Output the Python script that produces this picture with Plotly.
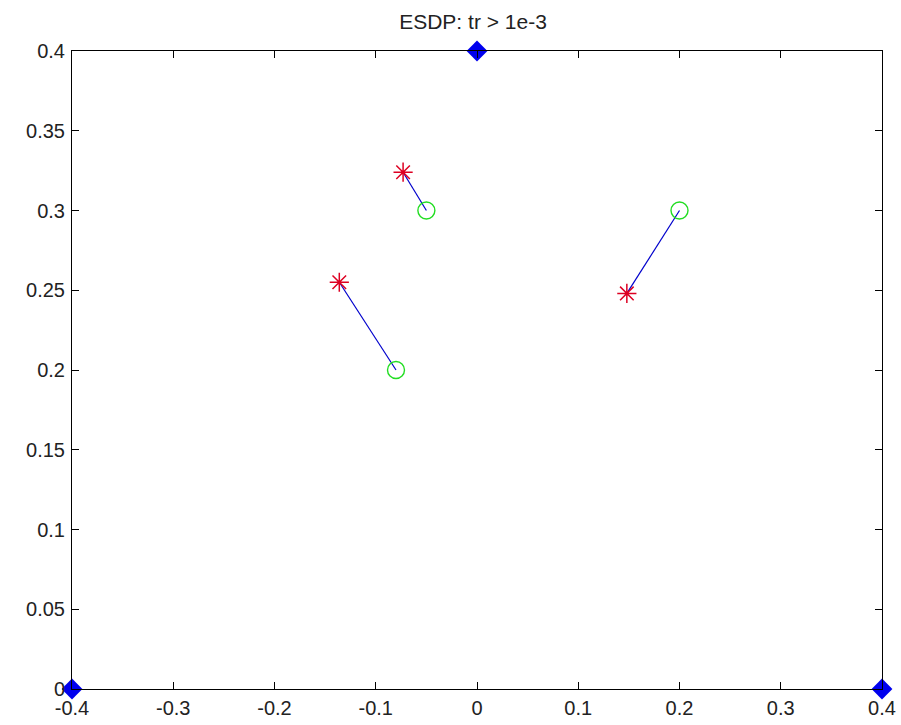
import plotly.graph_objects as go

# anchors
anchor_x = [-0.4, 0.0, 0.4]
anchor_y = [0.0, 0.4, 0.0]
# true positions (circles)
true_x = [-0.08, -0.05, 0.2]
true_y = [0.2, 0.3, 0.3]
# estimated positions (stars)
est_x = [-0.136, -0.073, 0.148]
est_y = [0.255, 0.324, 0.248]

x_ticks = [-0.4, -0.3, -0.2, -0.1, 0, 0.1, 0.2, 0.3, 0.4]
x_labels = ["-0.4", "-0.3", "-0.2", "-0.1", "0", "0.1", "0.2", "0.3", "0.4"]
y_ticks = [0, 0.05, 0.1, 0.15, 0.2, 0.25, 0.3, 0.35, 0.4]
y_labels = ["0", "0.05", "0.1", "0.15", "0.2", "0.25", "0.3", "0.35", "0.4"]

lx, ly = [], []
for a, b, c, d in zip(est_x, est_y, true_x, true_y):
    lx += [a, c, None]
    ly += [b, d, None]

fig = go.Figure()
fig.add_trace(go.Scatter(x=lx, y=ly, mode="lines", line=dict(color="#0000cc", width=1.2), hoverinfo="skip"))
fig.add_trace(go.Scatter(x=true_x, y=true_y, mode="markers",
                         marker=dict(symbol="circle-open", size=17, color="#22dd22", line=dict(width=1.4))))
fig.add_trace(go.Scatter(x=est_x, y=est_y, mode="markers",
                         marker=dict(symbol="asterisk-open", size=16, color="#dd0022", line=dict(width=1.5, color="#dd0022"))))
fig.add_trace(go.Scatter(x=anchor_x, y=anchor_y, mode="markers", cliponaxis=False,
                         marker=dict(symbol="diamond", size=16, color="#0000ee", line=dict(width=0))))

tick_font = dict(family="Liberation Sans, Arial", size=20, color="#222222")
axis_common = dict(showgrid=False, zeroline=False, showline=True, linecolor="black", linewidth=1,
                   mirror="ticks", ticks="inside", ticklen=7, tickcolor="black",
                   tickfont=tick_font, automargin=False)
fig.update_layout(
    width=901, height=725,
    margin=dict(l=72, r=19, t=51, b=36),
    paper_bgcolor="white", plot_bgcolor="white",
    showlegend=False,
    title=dict(text="ESDP: tr > 1e-3", x=0.525, xanchor="center", y=0.97, yanchor="middle",
               font=dict(family="Liberation Sans, Arial", size=21, color="#222222")),
    xaxis=dict(range=[-0.4, 0.4], tickvals=x_ticks, ticktext=x_labels, ticklabelstandoff=1, **axis_common),
    yaxis=dict(range=[0, 0.4], tickvals=y_ticks, ticktext=y_labels, ticklabelstandoff=2, **axis_common),
)
fig.write_html("out.html")
